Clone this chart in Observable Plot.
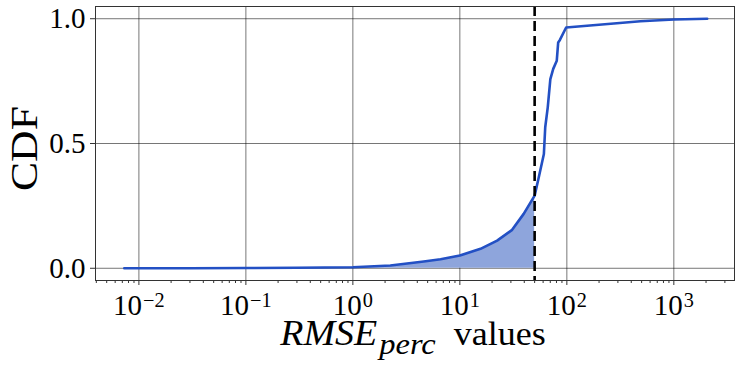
<!DOCTYPE html>
<html><head><meta charset="utf-8">
<script src="https://cdn.jsdelivr.net/npm/d3@7"></script>
<script src="https://cdn.jsdelivr.net/npm/@observablehq/plot@0.6"></script>
<style>
body{margin:0;background:#fff}
</style>
</head><body><div id="chart"></div>
<script>
// Data
const rmseValues = [0.0073, 0.03, 0.1, 0.3, 1, 2.24, 4.6, 6.6, 10, 15.6, 22.3, 30.8, 39.5, 50, 54.6, 61, 62.8, 66.3, 70.1, 74.6, 80.5, 83, 86.1, 98.5, 275, 487, 1000, 2050];
const cdfValues  = [0, 0.0003, 0.001, 0.002, 0.004, 0.011, 0.027, 0.036, 0.051, 0.078, 0.111, 0.154, 0.218, 0.291, 0.364, 0.458, 0.565, 0.645, 0.758, 0.799, 0.832, 0.905, 0.915, 0.965, 0.981, 0.99, 0.997, 1.0];
const threshold = 50;
const xTickValues = [0.01, 0.1, 1, 10, 100, 1000];
const yTickValues = [0, 0.5, 1];
const xDomain = [0.00393, 3690];
const yDomain = [-0.049, 1.049];

const data = rmseValues.map((x, i) => ({x, y: cdfValues[i]}));
const shaded = data.filter(d => d.x <= threshold);

const minorTicks = [];
for (let e = -3; e <= 3; e++) for (let m = 2; m <= 9; m++) {
  const v = m * Math.pow(10, e);
  if (v > xDomain[0] && v < xDomain[1]) minorTicks.push(v);
}

const lineColor = "#2350c4";
const fillColor = "#8ea5dc";
const serif = "'Liberation Serif', 'Times New Roman', serif";

const plot = Plot.plot({
  width: 741,
  height: 368,
  marginLeft: 95,
  marginRight: 7,
  marginTop: 6,
  marginBottom: 88,
  style: {background: "#fff", overflow: "visible", fontFamily: serif},
  x: {type: "log", domain: xDomain},
  y: {domain: yDomain},
  marks: [
    Plot.gridX(xTickValues, {stroke: "#000", strokeOpacity: 0.6, strokeWidth: 0.9}),
    Plot.gridY(yTickValues, {stroke: "#000", strokeOpacity: 0.6, strokeWidth: 0.9}),
    Plot.areaY(shaded, {x: "x", y1: 0, y2: "y", fill: fillColor}),
    Plot.line(data, {x: "x", y: "y", stroke: lineColor, strokeWidth: 2.6}),
    Plot.ruleX([threshold], {stroke: "#000", strokeWidth: 2.6, strokeDasharray: "10,5"}),
    Plot.frame({stroke: "#333", strokeWidth: 1}),
    Plot.axisX({ticks: minorTicks, tickSize: 3, tickFormat: () => "", label: null, stroke: "#333"}),
    Plot.axisX({ticks: xTickValues, tickSize: 5, tickPadding: 9, label: null, fontSize: 29,
      tickFormat: d => "10^" + Math.round(Math.log10(d)), stroke: "#333", fill: "#000"}),
    Plot.axisY({ticks: yTickValues, tickSize: 5, tickPadding: 5, label: null, fontSize: 29,
      tickFormat: d3.format(".1f"), stroke: "#333", fill: "#000"})
  ]
});

document.getElementById("chart").appendChild(plot);
const svg = d3.select(plot);

// drop empty labels of the minor-tick axis
svg.selectAll("text").filter(function() { return this.textContent === ""; }).remove();

// superscript exponents on x tick labels
svg.selectAll("text").each(function() {
  const t = d3.select(this);
  const s = t.text();
  if (/^10\^/.test(s)) {
    const exp = s.slice(3).replace("-", "\u2212");
    t.text(null);
    t.append("tspan").text("10");
    t.append("tspan").attr("dx", 1).attr("dy", "-0.42em").attr("font-size", "0.7em").text(exp);
  }
});

// create a text piece, gently widened toward a target width; returns node, scale and width
function piece(parent, str, size, italic, width) {
  const t = parent.append("text")
    .attr("text-anchor", "start")
    .attr("font-size", size)
    .attr("font-style", italic ? "italic" : "normal")
    .text(str);
  const w = t.node().getComputedTextLength();
  const k = w > 0 ? Math.max(0.9, Math.min(1.12, width / w)) : 1;
  return {t, k, w: w * k};
}
function place(p, x, y) { p.t.attr("transform", `translate(${x},${y}) scale(${p.k},1)`); }

// x axis label: RMSE_perc values, centred under the plot
const xlab = svg.append("g").attr("fill", "#000").style("font-family", serif);
const pR = piece(xlab, "RMSE", 35, true, 97);
const pP = piece(xlab, "perc", 29, true, 66);
const pV = piece(xlab, "values", 34, false, 92);
const gap1 = 2, gap2 = 18;
const total = pR.w + gap1 + pP.w + gap2 + pV.w;
let x0 = 413 - total / 2;
place(pR, x0, 345);
x0 += pR.w + gap1;
place(pP, x0, 354);
x0 += pP.w + gap2;
place(pV, x0, 345);

// y axis label
const ylab = svg.append("g").attr("fill", "#000").style("font-family", serif)
  .attr("transform", "translate(37,191) rotate(-90)");
const pC = piece(ylab, "CDF", 39, false, 90);
place(pC, 0, 0);
</script>
</body></html>
